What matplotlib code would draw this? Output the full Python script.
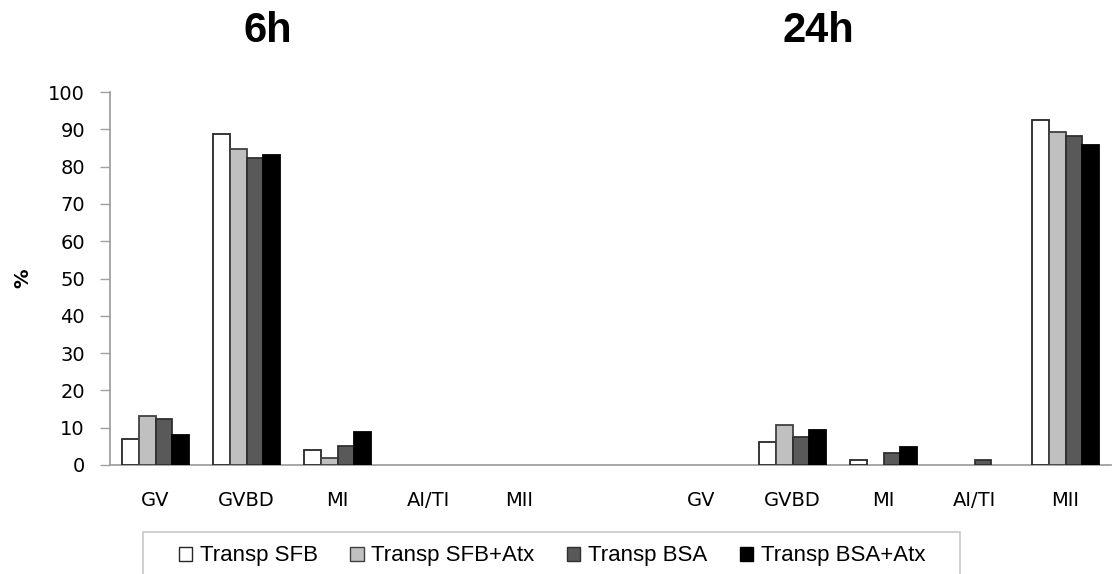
import matplotlib
matplotlib.use("Agg")
import matplotlib.pyplot as plt
import numpy as np
from matplotlib.patches import Patch, Rectangle

categories = ["GV", "GVBD", "MI", "AI/TI", "MII", "", "GV", "GVBD", "MI", "AI/TI", "MII"]
series_names = ["Transp SFB", "Transp SFB+Atx", "Transp BSA", "Transp BSA+Atx"]
sfb = [7.0, 88.8, 4.0, 0, 0, 0, 0, 6.2, 1.3, 0, 92.6]
sfb_atx = [13.2, 84.6, 2.0, 0, 0, 0, 0, 10.6, 0, 0, 89.4]
bsa = [12.4, 82.2, 5.1, 0, 0, 0, 0, 7.5, 3.1, 1.3, 88.1]
bsa_atx = [8.1, 83.0, 8.9, 0, 0, 0, 0, 9.5, 4.7, 0, 85.8]
yticks = list(range(0, 101, 10))
titles = ["6h", "24h"]

colors = ["#ffffff", "#c0c0c0", "#595959", "#000000"]
edges = ["#262626", "#404040", "#303030", "#000000"]

W, H = 1114, 574
fig = plt.figure(figsize=(W / 100, H / 100), dpi=100)
ax = fig.add_axes([110 / W, 109 / H, 1001 / W, 373 / H])

x = np.arange(len(categories))
w = 0.735 / 4
for i, vals in enumerate([sfb, sfb_atx, bsa, bsa_atx]):
    xs = x + (i - 1.5) * w
    v = np.array(vals, dtype=float)
    mask = v > 0
    ax.bar(xs[mask], v[mask], width=w, color=colors[i], edgecolor=edges[i], linewidth=1.3, zorder=3)

ax.set_xlim(-0.5, len(categories) - 0.5)
ax.set_ylim(0, 100)
ax.set_yticks(yticks)
ax.set_xticks(x)
ax.set_xticklabels(categories, fontsize=14, color="#000000")
ax.tick_params(axis="x", length=0, pad=19)
ax.tick_params(axis="y", length=7, width=1, color="#a0a0a0", labelsize=14, pad=11, direction="out")
for s in ["top", "right"]:
    ax.spines[s].set_visible(False)
for s in ["left", "bottom"]:
    ax.spines[s].set_color("#a0a0a0")
    ax.spines[s].set_linewidth(1.3)
ax.set_ylabel("%", fontsize=14, fontweight="bold", labelpad=11)

for t, cx in zip(titles, [268, 818]):
    fig.text(cx / W, 1 - 31 / H, t, fontsize=30, fontweight="bold", ha="center", va="center",
             family="Liberation Sans")

handles = [Patch(facecolor=colors[i], edgecolor=edges[i], linewidth=1.0) for i in range(4)]
leg = fig.legend(handles, series_names, loc="center left", bbox_to_anchor=(179 / W, 1 - 556 / H),
                 ncol=4, frameon=False, handlelength=0.6, handleheight=0.6,
                 handletextpad=0.35, columnspacing=1.45, borderaxespad=0, borderpad=0,
                 prop={"family": "Liberation Sans", "size": 16})
fig.patches.append(Rectangle((143 / W, -0.05), (960 - 143) / W, 0.05 + (574 - 532) / H,
                             transform=fig.transFigure, fill=False, edgecolor="#c8c8c8",
                             linewidth=1.2))

fig.savefig("out.png", dpi=100)
